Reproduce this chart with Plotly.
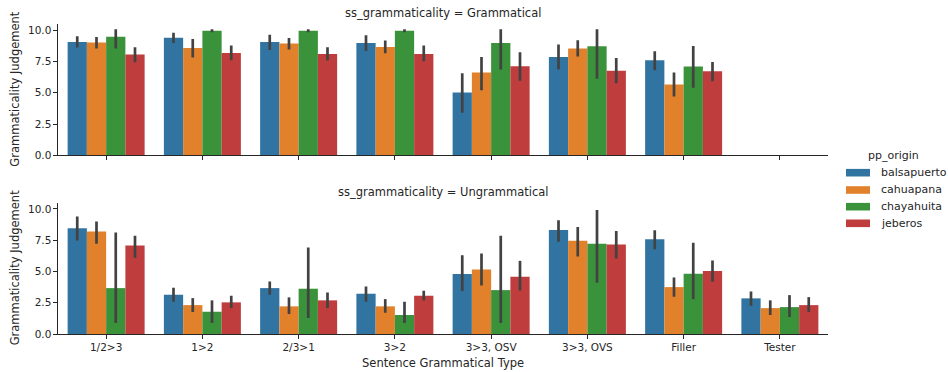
import plotly.graph_objects as go

categories = ["1/2>3", "1>2", "2/3>1", "3>2", "3>3, OSV", "3>3, OVS", "Filler", "Tester"]
origins = ["balsapuerto", "cahuapana", "chayahuita", "jeberos"]
colors = ["#3274a1", "#e1812c", "#3a923a", "#c03d3e"]

# Grammatical panel: mean, ci low, ci high per origin
gram_mean = {
    "balsapuerto": [9.07, 9.41, 9.07, 8.99, 5.03, 7.87, 7.61, None],
    "cahuapana":   [9.02, 8.59, 8.94, 8.67, 6.62, 8.54, 5.66, None],
    "chayahuita":  [9.49, 9.97, 9.97, 9.97, 8.99, 8.72, 7.10, None],
    "jeberos":     [8.06, 8.19, 8.11, 8.11, 7.13, 6.76, 6.73, None],
}
gram_lo = {
    "balsapuerto": [8.62, 8.99, 8.43, 8.35, 3.40, 6.86, 6.81, None],
    "cahuapana":   [8.54, 7.82, 8.46, 8.16, 5.21, 7.90, 4.71, None],
    "chayahuita":  [8.54, 9.84, 9.84, 9.84, 6.86, 6.12, 5.40, None],
    "jeberos":     [7.45, 7.61, 7.58, 7.53, 5.96, 5.77, 5.93, None],
}
gram_hi = {
    "balsapuerto": [9.52, 9.81, 9.65, 9.60, 6.57, 8.86, 8.32, None],
    "cahuapana":   [9.47, 9.31, 9.39, 9.18, 7.87, 9.20, 6.62, None],
    "chayahuita":  [10.08, 10.08, 10.08, 10.08, 10.08, 10.08, 8.75, None],
    "jeberos":     [8.64, 8.78, 8.64, 8.78, 8.24, 7.79, 7.47, None],
}

# Ungrammatical panel
ungr_mean = {
    "balsapuerto": [8.46, 3.14, 3.67, 3.22, 4.79, 8.32, 7.58, 2.85],
    "cahuapana":   [8.19, 2.31, 2.21, 2.21, 5.16, 7.45, 3.75, 2.07],
    "chayahuita":  [3.67, 1.78, 3.62, 1.52, 3.51, 7.21, 4.81, 2.15],
    "jeberos":     [7.07, 2.53, 2.69, 3.06, 4.57, 7.15, 5.03, 2.31],
}
ungr_lo = {
    "balsapuerto": [7.47, 2.58, 3.14, 2.58, 3.43, 7.37, 6.78, 2.26],
    "cahuapana":   [7.21, 1.76, 1.60, 1.70, 3.88, 6.20, 2.98, 1.52],
    "chayahuita":  [0.88, 0.88, 1.28, 0.88, 0.88, 4.10, 2.79, 1.36],
    "jeberos":     [6.09, 2.07, 2.07, 2.69, 3.48, 6.04, 4.18, 1.76],
}
ungr_hi = {
    "balsapuerto": [9.39, 3.70, 4.20, 3.80, 6.30, 9.10, 8.30, 3.40],
    "cahuapana":   [8.99, 2.87, 2.93, 2.79, 6.44, 8.56, 4.52, 2.69],
    "chayahuita":  [8.11, 2.69, 6.91, 2.58, 7.85, 9.92, 7.29, 3.11],
    "jeberos":     [7.85, 3.06, 3.32, 3.46, 5.85, 8.24, 5.88, 2.95],
}

yticks = [0, 2.5, 5, 7.5, 10]

W, H = 948, 372
L, R, T, B = 58, 120, 24, 38
PW, PH = W - L - R, H - T - B

def px_x(px):
    return (px - L) / PW

def px_y(py):
    return (H - B - py) / PH

top_dom = [px_y(155.3), 1.0]
bot_dom = [0.0, px_y(202.7)]

FONT = "DejaVu Sans"
TXT = "#262626"
ERR = "#424242"

def err(mean, lo, hi):
    plus = [None if m is None else h - m for m, h in zip(mean, hi)]
    minus = [None if m is None else m - l for m, l in zip(mean, lo)]
    return plus, minus

fig = go.Figure()
for o, c in zip(origins, colors):
    p, m = err(gram_mean[o], gram_lo[o], gram_hi[o])
    fig.add_trace(go.Bar(
        x=categories, y=gram_mean[o], name=o, marker_color=c,
        marker_line_width=0, xaxis="x2", yaxis="y2", showlegend=False,
        offsetgroup=o,
        error_y=dict(type="data", symmetric=False, array=p, arrayminus=m,
                     color=ERR, thickness=2.7, width=0),
    ))
    p, m = err(ungr_mean[o], ungr_lo[o], ungr_hi[o])
    fig.add_trace(go.Bar(
        x=categories, y=ungr_mean[o], name=o, marker_color=c,
        marker_line_width=0, xaxis="x", yaxis="y", showlegend=False,
        offsetgroup=o,
        error_y=dict(type="data", symmetric=False, array=p, arrayminus=m,
                     color=ERR, thickness=2.7, width=0),
    ))

axis_common = dict(
    showline=True, linecolor=TXT, linewidth=1.1, ticks="outside",
    ticklen=3.5, tickwidth=1, tickcolor=TXT, showgrid=False, zeroline=False,
    tickfont=dict(family=FONT, size=10.5, color=TXT),
)

fig.update_layout(
    width=W, height=H,
    margin=dict(l=L, r=R, t=T, b=B),
    paper_bgcolor="white", plot_bgcolor="white",
    barmode="group", bargap=0.2, bargroupgap=0,
    showlegend=False,
    font=dict(family=FONT, color=TXT),
    xaxis=dict(domain=[0, 1], anchor="y", type="category",
               categoryorder="array", categoryarray=categories,
               range=[-0.5, 7.5], **axis_common),
    yaxis=dict(domain=bot_dom, anchor="x", range=[0, 10.5],
               tickvals=yticks, tickformat=".1f", **axis_common),
    xaxis2=dict(domain=[0, 1], anchor="y2", type="category",
                categoryorder="array", categoryarray=categories,
                range=[-0.5, 7.5], showticklabels=False, **axis_common),
    yaxis2=dict(domain=top_dom, anchor="x2", range=[0, 10.5],
                tickvals=yticks, tickformat=".1f", **axis_common),
)

annotations = []
# panel titles
for dom, txt in [(top_dom, "ss_grammaticality = Grammatical"),
                 (bot_dom, "ss_grammaticality = Ungrammatical")]:
    annotations.append(dict(text=txt, xref="paper", yref="paper", x=0.5, y=dom[1],
                            yanchor="middle", yshift=11, showarrow=False,
                            font=dict(family=FONT, size=11.5, color=TXT)))
    annotations.append(dict(text="Grammaticality Judgement", xref="paper", yref="paper",
                            x=0, y=(dom[0] + dom[1]) / 2, xanchor="center", yanchor="middle",
                            xshift=-43, textangle=-90, showarrow=False,
                            font=dict(family=FONT, size=11.5, color=TXT)))
annotations.append(dict(text="Sentence Grammatical Type", xref="paper", yref="paper",
                        x=0.5, y=0, yanchor="middle", yshift=-28.5, showarrow=False,
                        font=dict(family=FONT, size=11.5, color=TXT)))

# legend (manual)
annotations.append(dict(text="pp_origin", xref="paper", yref="paper",
                        x=px_x(893.5), y=px_y(155), xanchor="center", yanchor="middle",
                        showarrow=False, font=dict(family=FONT, size=11, color=TXT)))
shapes = []
entry_y = [172.7, 190, 206.7, 223.3]
for o, c, ey in zip(origins, colors, entry_y):
    shapes.append(dict(type="rect", xref="paper", yref="paper",
                       x0=px_x(846), x1=px_x(870), y0=px_y(ey + 3.8), y1=px_y(ey - 3.8),
                       fillcolor=c, line=dict(width=0)))
    annotations.append(dict(text=o, xref="paper", yref="paper",
                            x=px_x(879), y=px_y(ey), xanchor="left", yanchor="middle",
                            showarrow=False, font=dict(family=FONT, size=11, color=TXT)))

fig.update_layout(annotations=annotations, shapes=shapes)
fig.write_html(
    "out.html",
    config={"displayModeBar": False},
    post_script="document.body.style.margin='0';document.body.style.overflow='hidden';",
)
